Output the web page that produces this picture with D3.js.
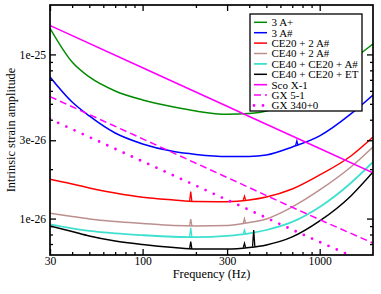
<!DOCTYPE html>
<html>
<head>
<meta charset="utf-8">
<script src="https://cdn.jsdelivr.net/npm/d3@7/dist/d3.min.js"></script>
<style>
  body { margin: 0; background: #fff; }
  svg { display: block; font-family: "Liberation Serif", "DejaVu Serif", serif; }
</style>
</head>
<body>
<div id="chart"></div>
<script>
//================================
// Data
var freqs = [30, 40, 50, 70, 100, 150, 200, 300, 400, 500, 700, 1000, 1500, 2000];

var threeAplus  = [1.443e-25, 8.99e-26, 7.29e-26, 5.99e-26, 5.28e-26, 4.78e-26, 4.52e-26, 4.32e-26, 4.37e-26, 4.52e-26, 5.28e-26, 6.51e-26, 9.12e-26, 1.158e-25];
var threeAsharp = [7.29e-26, 5.13e-26, 4.22e-26, 3.32e-26, 2.85e-26, 2.56e-26, 2.46e-26, 2.39e-26, 2.39e-26, 2.44e-26, 2.73e-26, 3.19e-26, 4.34e-26, 5.66e-26];
var ce20Asharp  = [1.736e-26, 1.626e-26, 1.536e-26, 1.432e-26, 1.349e-26, 1.299e-26, 1.272e-26, 1.268e-26, 1.299e-26, 1.355e-26, 1.515e-26, 1.844e-26, 2.406e-26, 3.14e-26];
var ce40Asharp  = [1.077e-26, 1.030e-26, 9.95e-27, 9.60e-27, 9.34e-27, 9.08e-27, 9.02e-27, 9.08e-27, 9.47e-27, 9.95e-27, 1.177e-26, 1.494e-26, 2.062e-26, 2.73e-26];
var ce40ce20A   = [9.21e-27, 8.71e-27, 8.41e-27, 8.12e-27, 7.92e-27, 7.75e-27, 7.70e-27, 7.84e-27, 8.12e-27, 8.52e-27, 9.54e-27, 1.177e-26, 1.648e-26, 2.212e-26];
var ce40ce20ET  = [9.02e-27, 8.35e-27, 7.84e-27, 7.31e-27, 6.96e-27, 6.67e-27, 6.53e-27, 6.53e-27, 6.67e-27, 6.91e-27, 7.73e-27, 9.67e-27, 1.374e-26, 1.923e-26];

// narrow lines: [freq, base, peak]
var spikesBlue  = [[743, 2.80e-26, 2.98e-26]];
var spikesRed   = [[187, 1.27e-26, 1.46e-26], [376, 1.30e-26, 1.37e-26]];
var spikesBrown = [[187, 9.02e-27, 9.91e-27], [376, 9.40e-27, 1.00e-26]];
var spikesCyan  = [[187, 7.71e-27, 8.77e-27], [376, 8.10e-27, 8.52e-27]];
var spikesBlack = [[187, 6.53e-27, 7.24e-27], [376, 6.65e-27, 7.07e-27], [424, 6.75e-27, 8.52e-27]];

var sourceFreqs = [30, 100, 300, 1000, 2000];
var scoX1  = [1.50e-25, 8.30e-26, 4.83e-26, 2.67e-26, 1.90e-26];
var gx51   = [5.53e-26, 3.06e-26, 1.78e-26, 9.85e-27, 7.10e-27];
var gx340  = [4.04e-26, 2.23e-26, 1.30e-26, 7.20e-27, 5.20e-27];

var xMajor = [30, 100, 300, 1000];
var xMinor = [40, 50, 60, 70, 80, 90, 200, 400, 500, 600, 700, 800, 900];
var yMajor = [1e-26, 3e-26, 1e-25];
var yMajorLabels = ["1e-26", "3e-26", "1e-25"];
var yMinor = [7e-27, 8e-27, 9e-27, 2e-26, 4e-26, 5e-26, 6e-26, 7e-26, 8e-26, 9e-26];

var legendLabels = ["3 A+", "3 A#", "CE20 + 2 A#", "CE40 + 2 A#", "CE40 + CE20 + A#",
                    "CE40 + CE20 + ET", "Sco X-1", "GX 5-1", "GX 340+0"];

//================================
// Layout
var W = 381, H = 294,
    pLeft = 50, pRight = 373, pTop = 5, pBottom = 255;

var x = d3.scaleLog().domain([30, 2000]).range([pLeft, pRight]);
var y = d3.scaleLog().domain([6e-27, 2e-25]).range([pBottom, pTop]);

var series = [
  {f: freqs, v: threeAplus,  color: '#008b00', w: 1.5, spikes: []},
  {f: freqs, v: threeAsharp, color: '#0000ff', w: 1.5, spikes: spikesBlue},
  {f: freqs, v: ce20Asharp,  color: '#ff0000', w: 1.5, spikes: spikesRed},
  {f: freqs, v: ce40Asharp,  color: '#bc8f8f', w: 1.5, spikes: spikesBrown},
  {f: freqs, v: ce40ce20A,   color: '#40e0d0', w: 1.8, spikes: spikesCyan},
  {f: freqs, v: ce40ce20ET,  color: '#000000', w: 1.5, spikes: spikesBlack},
  {f: sourceFreqs, v: scoX1, color: '#ff00ff', w: 1.6, spikes: []},
  {f: sourceFreqs, v: gx51,  color: '#ff00ff', w: 1.5, dash: '7,4', spikes: []},
  {f: sourceFreqs, v: gx340, color: '#ff00ff', w: 2.8, dash: '0,9', cap: 'round', spikes: []}
];

var svg = d3.select('#chart').append('svg')
    .attr('width', W).attr('height', H);

svg.append('defs').append('clipPath').attr('id', 'plot')
  .append('rect').attr('x', pLeft).attr('y', pTop)
  .attr('width', pRight - pLeft).attr('height', pBottom - pTop);

var line = d3.line()
    .x(function(d) { return x(d[0]); })
    .y(function(d) { return y(d[1]); })
    .curve(d3.curveMonotoneX);

var plot = svg.append('g').attr('clip-path', 'url(#plot)');

series.forEach(function(s) {
  var pts = s.f.map(function(f, i) { return [f, s.v[i]]; });
  plot.append('path')
    .attr('d', line(pts))
    .attr('fill', 'none')
    .attr('stroke', s.color)
    .attr('stroke-width', s.w)
    .attr('stroke-dasharray', s.dash || null)
    .attr('stroke-linecap', s.cap || 'butt');

  s.spikes.forEach(function(sp) {
    plot.append('path')
      .attr('d', 'M' + x(sp[0] * 0.985) + ',' + y(sp[1]) +
                 'L' + x(sp[0]) + ',' + y(sp[2]) +
                 'L' + x(sp[0] * 1.015) + ',' + y(sp[1]))
      .attr('fill', 'none')
      .attr('stroke', s.color)
      .attr('stroke-width', 1.3);
  });
});

//================================
// Axes (ticks point inward on all four sides)
function styleAxis(g) {
  g.select('.domain').remove();
  g.selectAll('.tick line').attr('stroke', '#000').attr('stroke-width', 1.3);
  g.selectAll('.tick text').attr('fill', '#000')
    .style('font-family', '"Liberation Serif", serif').style('font-size', '11.6px');
}

svg.append('g').attr('transform', 'translate(0,' + pBottom + ')')
  .call(d3.axisBottom(x).tickValues(xMajor).tickFormat(d3.format('d')).tickSize(-6).tickPadding(2))
  .call(styleAxis);
svg.append('g').attr('transform', 'translate(0,' + pBottom + ')')
  .call(d3.axisBottom(x).tickValues(xMinor).tickFormat('').tickSize(-3))
  .call(styleAxis);
svg.append('g').attr('transform', 'translate(0,' + pTop + ')')
  .call(d3.axisTop(x).tickValues(xMajor).tickFormat('').tickSize(-6))
  .call(styleAxis);
svg.append('g').attr('transform', 'translate(0,' + pTop + ')')
  .call(d3.axisTop(x).tickValues(xMinor).tickFormat('').tickSize(-3))
  .call(styleAxis);

svg.append('g').attr('transform', 'translate(' + pLeft + ',0)')
  .call(d3.axisLeft(y).tickValues(yMajor)
    .tickFormat(function(d, i) { return yMajorLabels[i]; }).tickSize(-6).tickPadding(4))
  .call(styleAxis);
svg.append('g').attr('transform', 'translate(' + pLeft + ',0)')
  .call(d3.axisLeft(y).tickValues(yMinor).tickFormat('').tickSize(-3))
  .call(styleAxis);
svg.append('g').attr('transform', 'translate(' + pRight + ',0)')
  .call(d3.axisRight(y).tickValues(yMajor).tickFormat('').tickSize(-6))
  .call(styleAxis);
svg.append('g').attr('transform', 'translate(' + pRight + ',0)')
  .call(d3.axisRight(y).tickValues(yMinor).tickFormat('').tickSize(-3))
  .call(styleAxis);

svg.append('rect')
  .attr('x', pLeft).attr('y', pTop)
  .attr('width', pRight - pLeft).attr('height', pBottom - pTop)
  .attr('fill', 'none').attr('stroke', '#000').attr('stroke-width', 1.7);

svg.append('text')
  .attr('x', (pLeft + pRight) / 2).attr('y', 278)
  .attr('text-anchor', 'middle').style('font-size', '12.3px')
  .text('Frequency (Hz)');

svg.append('text')
  .attr('transform', 'translate(15,' + (pTop + pBottom) / 2 + ') rotate(-90)')
  .attr('text-anchor', 'middle').style('font-size', '12.4px')
  .text('Intrinsic strain amplitude');

//================================
// Legend
var lg = svg.append('g');
lg.append('rect')
  .attr('x', 250).attr('y', 14).attr('width', 112).attr('height', 97)
  .attr('fill', '#fff').attr('stroke', '#000').attr('stroke-width', 1.3);

legendLabels.forEach(function(label, i) {
  var s = series[i], ly = 22.3 + i * 10.4;
  lg.append('line')
    .attr('x1', 254).attr('x2', 267).attr('y1', ly).attr('y2', ly)
    .attr('stroke', s.color).attr('stroke-width', s.w)
    .attr('stroke-dasharray', s.dash || null)
    .attr('stroke-linecap', s.cap || 'butt');
  lg.append('text')
    .attr('x', 271.5).attr('y', ly + 3.8)
    .style('font-size', '11px')
    .text(label);
});
</script>
</body>
</html>
